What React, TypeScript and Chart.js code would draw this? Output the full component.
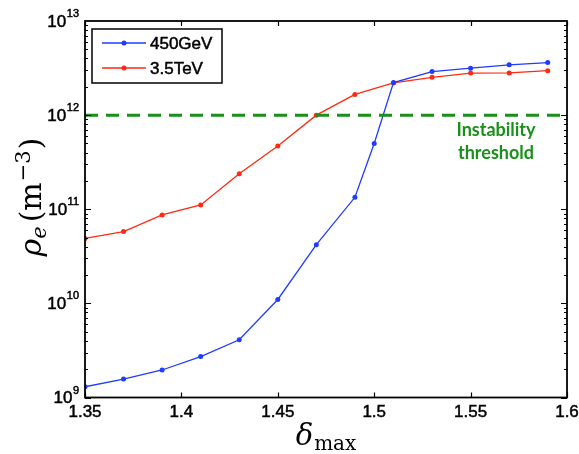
import React, { useEffect, useRef } from "react";
import { Chart, registerables } from "chart.js";

Chart.register(...registerables);

const blueX = [1.35, 1.37, 1.39, 1.41, 1.43, 1.45, 1.47, 1.49, 1.5, 1.51, 1.53, 1.55, 1.57, 1.59];
const blueY = [1.3e9, 1.57e9, 1.96e9, 2.72e9, 4.1e9, 1.1e10, 4.2e10, 1.34e11, 5.0e11, 2.22e12, 2.9e12, 3.15e12, 3.42e12, 3.62e12];
const redX = [1.35, 1.37, 1.39, 1.41, 1.43, 1.45, 1.47, 1.49, 1.51, 1.53, 1.55, 1.57, 1.59];
const redY = [4.9e10, 5.8e10, 8.7e10, 1.11e11, 2.38e11, 4.7e11, 1.0e12, 1.66e12, 2.2e12, 2.52e12, 2.8e12, 2.81e12, 2.97e12];
const thresholdX = [1.35, 1.6];
const thresholdY = [1e12, 1e12];
const xTicks = [1.35, 1.4, 1.45, 1.5, 1.55, 1.6];
const xTickLabels = ["1.35", "1.4", "1.45", "1.5", "1.55", "1.6"];
const yExponents = [9, 10, 11, 12, 13];
const seriesNames = ["450GeV", "3.5TeV"];
const annotationLines = ["Instability", "threshold"];

const BLUE = "#1f3cff";
const RED = "#ff2a10";
const GREEN = "#1a901a";
const SERIF = "'DejaVu Serif', 'Liberation Serif', serif";
const SANS = "'Liberation Sans', Arial, sans-serif";

function heavyText(ctx: CanvasRenderingContext2D, t: string, x: number, y: number) {
  ctx.fillText(t, x, y);
  ctx.lineWidth = 0.5;
  ctx.strokeStyle = ctx.fillStyle as string;
  ctx.strokeText(t, x, y);
}

const decorPlugin = {
  id: "decor",
  afterDraw(chart: any) {
    const ctx = chart.ctx as CanvasRenderingContext2D;
    const a = chart.chartArea;
    const xs = chart.scales.x;
    const ys = chart.scales.y;
    ctx.save();
    ctx.strokeStyle = "#000";
    ctx.lineWidth = 1.2;
    xTicks.forEach((v) => {
      const px = Math.round(xs.getPixelForValue(v)) + 0.5;
      ctx.beginPath();
      ctx.moveTo(px, a.bottom);
      ctx.lineTo(px, a.bottom - 5);
      ctx.moveTo(px, a.top);
      ctx.lineTo(px, a.top + 5);
      ctx.stroke();
    });
    for (let e = 9; e < 13; e++) {
      for (let m = 1; m < 10; m++) {
        const v = m * Math.pow(10, e);
        const py = Math.round(ys.getPixelForValue(v)) + 0.5;
        const len = m === 1 ? 6 : 3;
        ctx.beginPath();
        ctx.moveTo(a.left, py);
        ctx.lineTo(a.left + len, py);
        ctx.moveTo(a.right, py);
        ctx.lineTo(a.right - len, py);
        ctx.stroke();
      }
    }
    ctx.lineWidth = 1.8;
    ctx.strokeRect(a.left, a.top, a.right - a.left, a.bottom - a.top);

    // x tick labels
    ctx.fillStyle = "#000";
    ctx.font = "17px " + SANS;
    ctx.textAlign = "center";
    ctx.textBaseline = "middle";
    xTicks.forEach((v, i) => {
      heavyText(ctx, xTickLabels[i], xs.getPixelForValue(v), a.bottom + 15);
    });
    // y tick labels with superscript
    yExponents.forEach((e) => {
      const py = ys.getPixelForValue(Math.pow(10, e));
      const exp = String(e);
      ctx.font = "11px " + SANS;
      const ew = ctx.measureText(exp).width;
      ctx.textAlign = "left";
      const expX = a.left - 6 - ew;
      heavyText(ctx, exp, expX, py - 7);
      ctx.font = "17px " + SANS;
      ctx.textAlign = "right";
      heavyText(ctx, "10", expX - 0.5, py + 1);
    });

    // x title: delta_max
    ctx.fillStyle = "#000";
    ctx.textBaseline = "alphabetic";
    ctx.textAlign = "left";
    const bigX = "italic 29px " + SERIF;
    const subX = "20px " + SERIF;
    ctx.font = bigX;
    const dW = ctx.measureText("δ").width;
    ctx.font = subX;
    const mW = ctx.measureText("max").width;
    const totalX = dW + 1 + mW;
    const cx = (a.left + a.right) / 2;
    const sx = cx - totalX / 2;
    ctx.font = bigX;
    ctx.fillText("δ", sx, 445);
    ctx.font = subX;
    ctx.fillText("max", sx + dW + 1, 450);

    // y title: rho_e (m^-3)
    ctx.save();
    ctx.translate(32, 197);
    ctx.rotate(-Math.PI / 2);
    const big = "italic 30px " + SERIF;
    const bigUp = "30px " + SERIF;
    const small = "italic 21px " + SERIF;
    const smallUp = "21px " + SERIF;
    const parts = [
      { t: "ρ", f: big, dy: 0, pad: 0 },
      { t: "e", f: small, dy: 5, pad: 0 },
      { t: "(m", f: bigUp, dy: 0, pad: 4 },
      { t: "−3", f: smallUp, dy: -11, pad: 1 },
      { t: ")", f: bigUp, dy: 0, pad: 1 },
    ];
    let tw = 0;
    const widths: number[] = [];
    parts.forEach((p) => {
      ctx.font = p.f;
      const w = ctx.measureText(p.t).width + p.pad;
      widths.push(w);
      tw += w;
    });
    let px0 = -tw / 2;
    parts.forEach((p, i) => {
      ctx.font = p.f;
      ctx.fillText(p.t, px0 + p.pad, 9 + p.dy);
      px0 += widths[i];
    });
    ctx.restore();

    // legend
    const lx = 92, ly = 29, lw = 130, lh = 54;
    ctx.fillStyle = "#fff";
    ctx.fillRect(lx, ly, lw, lh);
    ctx.lineWidth = 1.5;
    ctx.strokeStyle = "#000";
    ctx.strokeRect(lx, ly, lw, lh);
    const colors = [BLUE, RED];
    const rows = [43, 68];
    seriesNames.forEach((name, i) => {
      const y = rows[i];
      ctx.strokeStyle = colors[i];
      ctx.lineWidth = 1.3;
      ctx.beginPath();
      ctx.moveTo(102, y);
      ctx.lineTo(146, y);
      ctx.stroke();
      ctx.fillStyle = colors[i];
      ctx.beginPath();
      ctx.arc(124, y, 2.5, 0, Math.PI * 2);
      ctx.fill();
      ctx.fillStyle = "#000";
      ctx.font = "17px " + SANS;
      ctx.textAlign = "left";
      ctx.textBaseline = "middle";
      heavyText(ctx, name, 150, y + 1);
    });

    // annotation
    ctx.fillStyle = GREEN;
    ctx.font = "bold 18px Lato, 'Open Sans', sans-serif";
    ctx.textAlign = "center";
    ctx.textBaseline = "middle";
    ctx.fillText(annotationLines[0], 496, 130);
    ctx.fillText(annotationLines[1], 496, 153);
    ctx.restore();
  },
};

export default function App() {
  const ref = useRef<HTMLCanvasElement | null>(null);
  useEffect(() => {
    document.body.style.margin = "0";
    const canvas = ref.current!;
    const chart = new Chart(canvas, {
      type: "line",
      data: {
        datasets: [
          {
            label: "threshold",
            data: thresholdX.map((x, i) => ({ x, y: thresholdY[i] })),
            borderColor: GREEN,
            borderWidth: 3,
            borderDash: [13, 8],
            pointRadius: 0,
            fill: false,
          },
          {
            label: seriesNames[0],
            data: blueX.map((x, i) => ({ x, y: blueY[i] })),
            borderColor: BLUE,
            backgroundColor: BLUE,
            borderWidth: 1.3,
            pointRadius: 2.5,
            pointBorderWidth: 0,
            fill: false,
          },
          {
            label: seriesNames[1],
            data: redX.map((x, i) => ({ x, y: redY[i] })),
            borderColor: RED,
            backgroundColor: RED,
            borderWidth: 1.3,
            pointRadius: 2.5,
            pointBorderWidth: 0,
            fill: false,
          },
        ],
      },
      options: {
        responsive: false,
        animation: false,
        layout: { padding: { left: 85, right: 12, top: 21, bottom: 56.5 } },
        plugins: { legend: { display: false }, tooltip: { enabled: false } },
        scales: {
          x: { type: "linear", min: 1.35, max: 1.6, display: false },
          y: { type: "logarithmic", min: 1e9, max: 1e13, display: false },
        },
      },
      plugins: [decorPlugin],
    });
    return () => chart.destroy();
  }, []);
  return (
    <div style={{ width: 579, height: 454, background: "#fff" }}>
      <canvas ref={ref} width={579} height={454} />
    </div>
  );
}
